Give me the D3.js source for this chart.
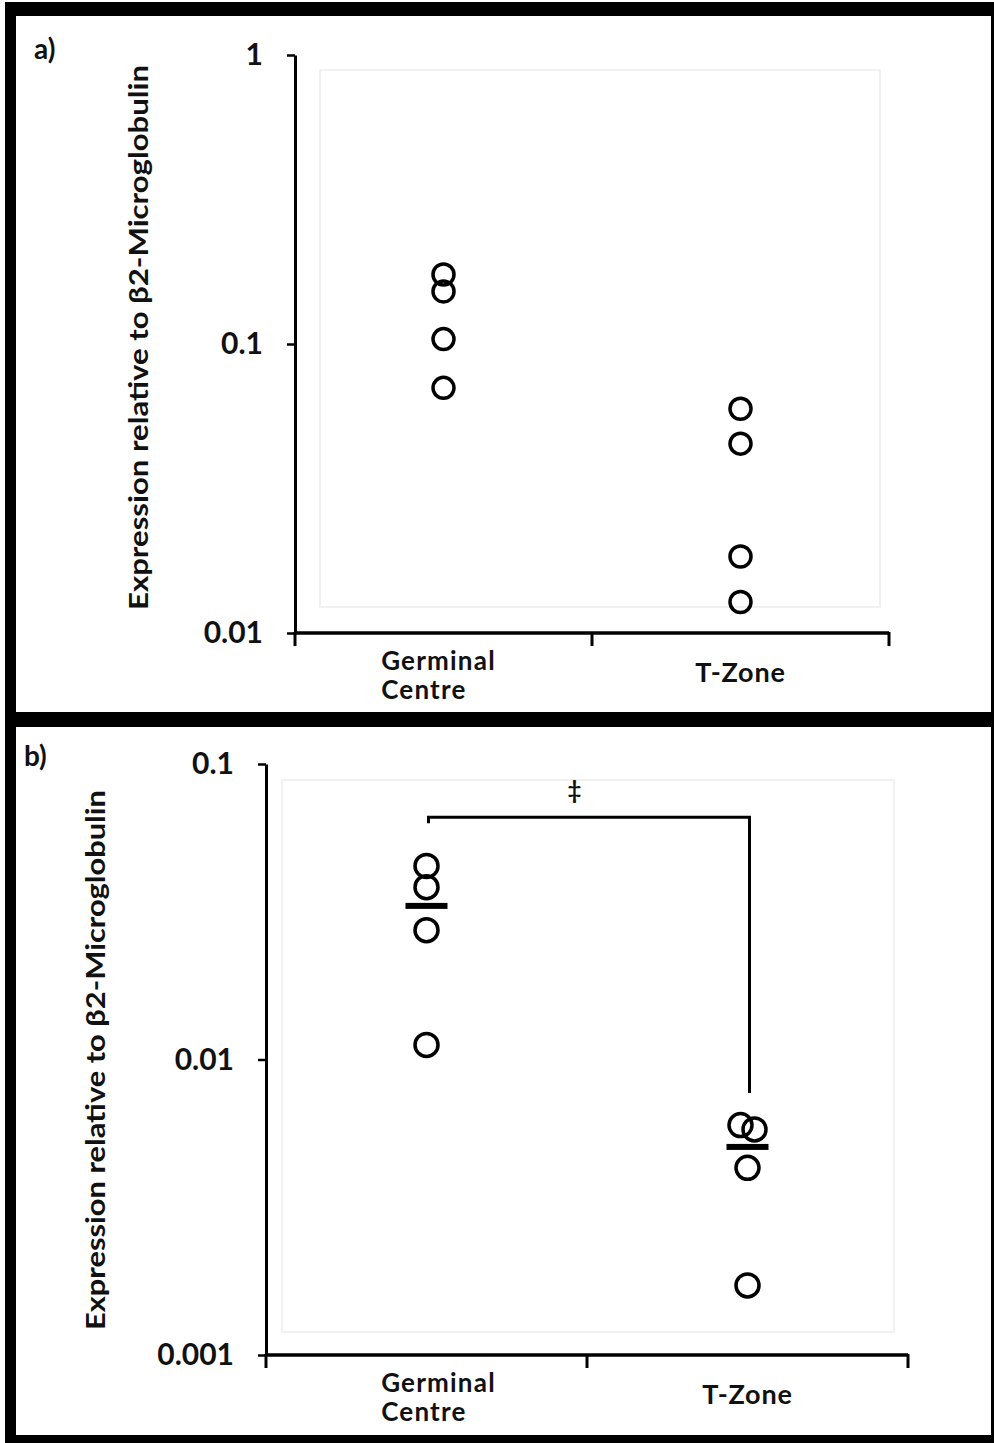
<!DOCTYPE html>
<html>
<head>
<meta charset="utf-8">
<script src="https://cdn.jsdelivr.net/npm/d3@7"></script>
<style>
  body { margin: 0; background: #fff; }
  svg { display: block; }
  text { font-family: Lato, "Open Sans", sans-serif; font-weight: 700; fill: #111; }
</style>
</head>
<body>
<svg id="fig" width="994" height="1443"></svg>
<script>
// ---- data ----
const categories = ["Germinal Centre", "T-Zone"];
const categoryLines = [["Germinal", "Centre"], ["T-Zone"]];
const yTitle = "Expression relative to \u03b22-Microglobulin";

// panel a: relative expression per sample
const panelAGerminal = [0.174, 0.152, 0.104, 0.0705];
const panelATZone = [0.0597, 0.0452, 0.0184, 0.0128];
const panelATicks = [0.01, 0.1, 1];
const panelATickLabels = ["0.01", "0.1", "1"];

// panel b: relative expression per sample, with group means
const panelBGerminal = [0.0452, 0.0383, 0.0274, 0.0112];
const panelBTZone = [0.0060, 0.0058, 0.0043, 0.00172];
const panelBMeans = [0.0331, 0.00506];
const panelBTicks = [0.001, 0.01, 0.1];
const panelBTickLabels = ["0.001", "0.01", "0.1"];

// significance bracket: bar level, left drop end, right drop end
const bracketLevels = [0.066, 0.063, 0.0077];
const bracketMark = "\u2021";

const svg = d3.select("#fig");

// ---- frame ----
const frame = svg.append("g").attr("fill", "#000");
frame.append("rect").attr("x", 5).attr("y", 2).attr("width", 989).attr("height", 14);
frame.append("rect").attr("x", 5).attr("y", 2).attr("width", 11).attr("height", 1441);
frame.append("rect").attr("x", 6).attr("y", 712).attr("width", 988).attr("height", 15);
frame.append("rect").attr("x", 6).attr("y", 1435).attr("width", 988).attr("height", 8);
frame.append("rect").attr("x", 991).attr("y", 2).attr("width", 3).attr("height", 1441);

function drawPanel(cfg) {
  const g = svg.append("g");
  const y = d3.scaleLog().domain(cfg.domain).range([cfg.yBottom, cfg.yTop]);
  const x = d3.scaleBand().domain(categories).range([cfg.xLeft, cfg.xRight]);
  const cx = d => x(d) + x.bandwidth() / 2;

  // faint plot-area outline
  g.append("rect")
    .attr("x", cfg.plotArea[0]).attr("y", cfg.plotArea[1])
    .attr("width", cfg.plotArea[2]).attr("height", cfg.plotArea[3])
    .attr("fill", "none").attr("stroke", "#f1f1f1").attr("stroke-width", 2);

  // y axis
  const yAxis = d3.axisLeft(y)
    .tickValues(cfg.ticks)
    .tickFormat((d, i) => cfg.tickLabels[i])
    .tickSize(8).tickSizeOuter(0).tickPadding(24);
  const ya = g.append("g").attr("transform", `translate(${cfg.xLeft},0)`).call(yAxis);
  ya.select(".domain").attr("stroke", "#000").attr("stroke-width", 3);
  ya.selectAll(".tick line").attr("stroke", "#000").attr("stroke-width", 2.5);
  ya.selectAll(".tick text").attr("font-size", 30).attr("font-family", "Lato, sans-serif")
    .attr("font-weight", 700).attr("fill", "#111");

  // x axis with boundary ticks
  const yBase = y(cfg.domain[0]);
  g.append("line").attr("x1", cfg.xLeft).attr("x2", cfg.xRight)
    .attr("y1", yBase).attr("y2", yBase).attr("stroke", "#000").attr("stroke-width", 3.5);
  const bounds = categories.map(c => x(c)).concat([cfg.xRight]);
  g.selectAll(".xtick").data(bounds).join("line")
    .attr("x1", d => d).attr("x2", d => d)
    .attr("y1", yBase - 1).attr("y2", yBase + 13)
    .attr("stroke", "#000").attr("stroke-width", 3);

  // category labels (wrapped names are left-aligned under their first line)
  categories.forEach((c, i) => {
    const lines = categoryLines[i];
    if (lines.length === 1) {
      g.append("text").attr("font-size", 27).attr("letter-spacing", 0.8)
        .attr("x", cx(c)).attr("y", yBase + 49).attr("text-anchor", "middle").text(lines[0]);
    } else {
      const texts = lines.map((l, k) => g.append("text").attr("font-size", 26)
        .attr("letter-spacing", 1.2).attr("y", yBase + 37 + k * 29).text(l));
      const w = texts[0].node().getComputedTextLength();
      texts.forEach(t => t.attr("x", cx(c) - w / 2 - cfg.labelShift));
    }
  });

  // y title
  g.append("text")
    .attr("transform", `translate(${cfg.titleX},${(cfg.titleTop + cfg.titleBottom) / 2}) rotate(-90)`)
    .attr("text-anchor", "middle").attr("font-size", 27)
    .attr("textLength", cfg.titleBottom - cfg.titleTop).attr("lengthAdjust", "spacingAndGlyphs")
    .text(yTitle);

  // panel letter
  g.append("text").attr("x", cfg.letterPos[0]).attr("y", cfg.letterPos[1])
    .attr("font-size", 28).text(cfg.letter);

  // points: overlapping values inside a group are nudged sideways
  cfg.series.forEach((vals, i) => {
    const c = categories[i];
    const pts = vals.map(v => ({ v, py: y(v), dx: 0 }));
    for (let a = 0; a < pts.length; a++) {
      for (let b = a + 1; b < pts.length; b++) {
        if (Math.abs(pts[a].py - pts[b].py) < 5) { pts[a].dx = -7; pts[b].dx = 7; }
      }
    }
    g.selectAll(null).data(pts).join("circle")
      .attr("cx", d => cx(c) + d.dx).attr("cy", d => d.py).attr("r", cfg.r)
      .attr("fill", "none").attr("stroke", "#000").attr("stroke-width", 3.5);
  });

  if (cfg.means) {
    g.selectAll(null).data(cfg.means).join("rect")
      .attr("x", (d, i) => cx(categories[i]) - 21)
      .attr("y", d => y(d) - 3).attr("width", 42).attr("height", 6)
      .attr("fill", "#000");
  }

  if (cfg.bracket) {
    const [top, lEnd, rEnd] = cfg.bracket;
    const xL = cx(categories[0]) + 2, xR = cx(categories[1]) + 2;
    g.append("path")
      .attr("d", `M${xL},${y(lEnd)}V${y(top)}H${xR}V${y(rEnd)}`)
      .attr("fill", "none").attr("stroke", "#000").attr("stroke-width", 3);
    g.append("text")
      .attr("x", xL + (xR - xL) * 0.455).attr("y", y(top) - 18)
      .attr("text-anchor", "middle").attr("font-size", 24)
      .attr("font-family", "DejaVu Sans, sans-serif").attr("font-weight", 400)
      .text(bracketMark);
  }
}

drawPanel({
  domain: [0.01, 1], yTop: 55, yBottom: 633, xLeft: 295, xRight: 889,
  ticks: panelATicks, tickLabels: panelATickLabels,
  series: [panelAGerminal, panelATZone], r: 10.5,
  plotArea: [320, 70, 560, 537],
  titleX: 148, titleTop: 65, titleBottom: 610,
  letter: "a)", letterPos: [34, 59], labelShift: 5
});

drawPanel({
  domain: [0.001, 0.1], yTop: 764, yBottom: 1355, xLeft: 266, xRight: 908,
  ticks: panelBTicks, tickLabels: panelBTickLabels,
  series: [panelBGerminal, panelBTZone], r: 11.5,
  means: panelBMeans, bracket: bracketLevels,
  plotArea: [282, 780, 612, 552],
  titleX: 105, titleTop: 790, titleBottom: 1330,
  letter: "b)", letterPos: [24, 766], labelShift: -12
});
</script>
</body>
</html>
